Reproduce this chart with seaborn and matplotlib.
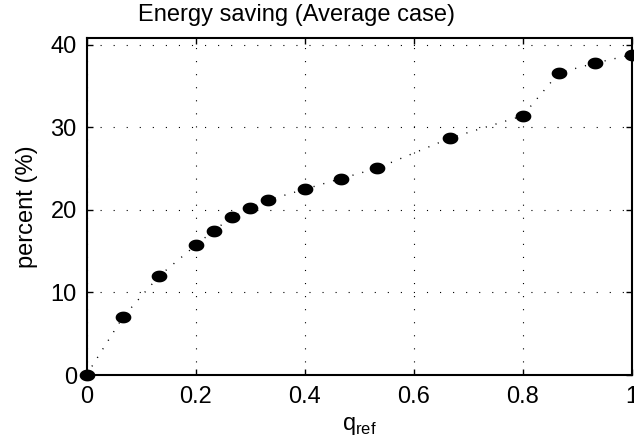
import numpy as np
import pandas as pd
import matplotlib
matplotlib.use("Agg")
import matplotlib.pyplot as plt
from matplotlib.path import Path
import seaborn as sns

# ---- data ----
q_ref = [0.0, 0.0667, 0.1333, 0.2, 0.2333, 0.2667, 0.3, 0.3333, 0.4, 0.4667,
         0.5333, 0.6667, 0.8, 0.8667, 0.9333, 1.0]
percent = [0.0, 7.0, 12.0, 15.7, 17.5, 19.1, 20.2, 21.2, 22.5, 23.8,
           25.05, 28.7, 31.4, 36.6, 37.8, 38.8]
x_ticks = [0, 0.2, 0.4, 0.6, 0.8, 1]
x_tick_labels = ["0", "0.2", "0.4", "0.6", "0.8", "1"]
y_ticks = [0, 10, 20, 30, 40]
y_tick_labels = ["0", "10", "20", "30", "40"]

df = pd.DataFrame({"q_ref": q_ref, "percent": percent})

sns.set_theme(style="white")
plt.rcParams["font.family"] = ["Liberation Sans", "DejaVu Sans"]
plt.rcParams["lines.scale_dashes"] = False

W, H = 634, 446
fig = plt.figure(figsize=(W / 100, H / 100), dpi=100)
ax_l, ax_r, ax_t, ax_b = 86.5, 631.5, 38.3, 375.0
ax = fig.add_axes([ax_l / W, (H - ax_b) / H, (ax_r - ax_l) / W, (ax_b - ax_t) / H])

# ellipse marker (wider than tall)
t = np.linspace(0, 2 * np.pi, 60)
ell = Path(np.column_stack([np.cos(t), 0.75 * np.sin(t)]), closed=True)

sns.lineplot(data=df, x="q_ref", y="percent", ax=ax, color="black",
             linewidth=1.0, linestyle=(0, (0.8, 6.5)), marker=ell,
             markersize=11.3, markeredgewidth=0, markerfacecolor="black",
             clip_on=False, zorder=5)

ax.set_xlim(0, 1)
ax.set_ylim(0, 40.8)
ax.set_xticks(x_ticks)
ax.set_xticklabels(x_tick_labels)
ax.set_yticks(y_ticks)
ax.set_yticklabels(y_tick_labels)

FS = 17
ax.grid(True, color="black", linewidth=0.8, linestyle=(0, (0.8, 8.6)))
for s in ax.spines.values():
    s.set_visible(True)
    s.set_color("black")
    s.set_linewidth(1.5)
ax.tick_params(axis="both", which="both", direction="in", length=4, width=1,
               color="black", top=True, right=True, bottom=True, left=True,
               labelsize=FS, labelcolor="black")
ax.tick_params(axis="x", pad=8)
ax.tick_params(axis="y", pad=7)

ax.set_xlabel(r"q$_{\mathregular{ref}}$", fontsize=FS, color="black", labelpad=5)
ax.set_ylabel("percent (%)", fontsize=FS, color="black", labelpad=9)
fig.text(296 / W, 1 - 15 / H, "Energy saving (Average case)", ha="center",
         va="center", fontsize=FS, color="black")

fig.savefig("out.png", dpi=100)
